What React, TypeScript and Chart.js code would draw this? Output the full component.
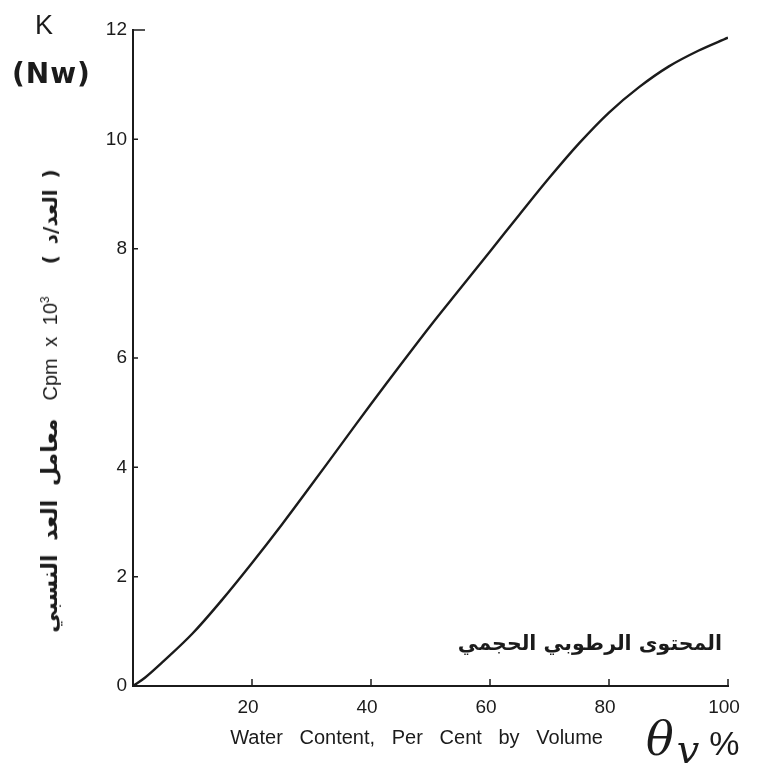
import React, { useEffect, useRef } from "react";
import { Chart, registerables } from "chart.js";

Chart.register(...registerables);

// Water content (% by volume)
const waterContent = [0, 2, 5, 10, 15, 20, 25, 30, 35, 40, 45, 50, 55, 60, 65, 70, 75, 80, 85, 90, 95, 100];
// Relative count rate K (Nw), Cpm x 10^3
const countRate = [0, 0.15, 0.44, 0.96, 1.58, 2.25, 2.95, 3.68, 4.42, 5.16, 5.88, 6.59, 7.27, 7.95, 8.63, 9.3, 9.93, 10.49, 10.95, 11.33, 11.62, 11.86];

const xTicks = [20, 40, 60, 80, 100];
const yTicks = [0, 2, 4, 6, 8, 10, 12];

const INK = "#1b1b1b";

const insideTicks = {
  id: "insideTicks",
  afterDraw(chart: any) {
    const { ctx, chartArea, scales } = chart;
    ctx.save();
    ctx.strokeStyle = INK;
    ctx.lineWidth = 1.5;
    ctx.beginPath();
    for (const v of xTicks) {
      const px = scales.x.getPixelForValue(v);
      ctx.moveTo(px, chartArea.bottom);
      ctx.lineTo(px, chartArea.bottom - 7);
    }
    for (const v of yTicks) {
      if (v === 0) continue;
      const py = scales.y.getPixelForValue(v);
      ctx.moveTo(chartArea.left, py);
      ctx.lineTo(chartArea.left + (v === 12 ? 12 : 5), py);
    }
    ctx.stroke();
    ctx.restore();
  },
};

export default function App() {
  const ref = useRef<HTMLCanvasElement | null>(null);

  useEffect(() => {
    if (!ref.current) return;
    const chart = new Chart(ref.current, {
      type: "line",
      data: {
        datasets: [
          {
            data: waterContent.map((x, i) => ({ x, y: countRate[i] })),
            borderColor: INK,
            borderWidth: 2.4,
            pointRadius: 0,
            tension: 0.35,
            fill: false,
          },
        ],
      },
      options: {
        animation: false,
        responsive: true,
        maintainAspectRatio: false,
        layout: { padding: { top: 30, right: 36, left: 0, bottom: 0 } },
        plugins: { legend: { display: false }, tooltip: { enabled: false } },
        scales: {
          x: {
            type: "linear",
            min: 0,
            max: 100,
            afterFit: (s: any) => {
              s.height = 79;
            },
            afterBuildTicks: (s: any) => {
              s.ticks = [0, ...xTicks].map((v) => ({ value: v }));
            },
            border: { display: true, color: INK, width: 2 },
            grid: { display: false, drawTicks: false },
            ticks: {
              padding: 10,
              labelOffset: -4,
              color: INK,
              font: { family: "Liberation Sans", size: 19 },
              callback: (v: any) => (v === 0 ? "" : String(v)),
            },
            title: {
              display: true,
              text: "Water   Content,   Per   Cent   by   Volume     ",
              color: INK,
              font: { family: "Liberation Sans", size: 20 },
              padding: { top: 0, bottom: 15 },
            },
          },
          y: {
            type: "linear",
            min: 0,
            max: 12,
            afterFit: (s: any) => {
              s.width = 133;
            },
            afterBuildTicks: (s: any) => {
              s.ticks = yTicks.map((v) => ({ value: v }));
            },
            border: { display: true, color: INK, width: 2 },
            grid: { display: false, drawTicks: false },
            ticks: {
              padding: 6,
              color: INK,
              font: { family: "Liberation Sans", size: 19 },
            },
          },
        },
      },
      plugins: [insideTicks],
    } as any);
    return () => chart.destroy();
  }, []);

  const abs = (s: React.CSSProperties): React.CSSProperties => ({
    position: "absolute",
    color: INK,
    whiteSpace: "nowrap",
    lineHeight: 1,
    ...s,
  });

  return (
    <div
      style={{
        position: "fixed",
        left: 0,
        top: 0,
        width: 764,
        height: 765,
        background: "#fff",
        overflow: "hidden",
      }}
    >
      <canvas ref={ref} style={{ position: "absolute", left: 0, top: 0 }} />
      <div style={abs({ left: 35, top: 12, fontFamily: "Liberation Sans", fontSize: 27 })}>K</div>
      <div
        style={abs({
          left: 12,
          top: 60,
          fontFamily: "DejaVu Sans",
          fontWeight: "bold",
          fontSize: 28,
          letterSpacing: 1,
        })}
      >
        (Nw)
      </div>
      <div
        style={abs({
          left: 50,
          top: 401,
          transform: "translate(-50%, -50%) rotate(-90deg)",
          fontFamily: "DejaVu Sans",
          fontSize: 21,
          direction: "ltr",
          display: "flex",
          alignItems: "baseline",
        })}
      >
        <span style={{ fontWeight: "bold", fontSize: 22, wordSpacing: 6 }}>معامل العد النسبي</span>
        <span style={{ fontFamily: "Liberation Sans", fontSize: 20, marginLeft: 18, wordSpacing: 6 }}>
          Cpm x 10<sup style={{ fontSize: 12 }}>3</sup>
        </span>
        <span style={{ fontWeight: "bold", fontSize: 20, marginLeft: 32, wordSpacing: 4 }}>( العد/د )</span>
      </div>
      <div
        style={abs({
          right: 42,
          top: 633,
          fontFamily: "DejaVu Sans",
          fontWeight: "bold",
          fontSize: 20.5,
          direction: "rtl",
        })}
      >
        المحتوى الرطوبي الحجمي
      </div>
      <div style={abs({ left: 646, top: 716, fontFamily: "DejaVu Serif" })}>
        <i style={{ fontSize: 46 }}>θ</i>
        <i style={{ fontSize: 40, position: "relative", top: 8, marginLeft: 3 }}>v</i>
        <span style={{ fontFamily: "Liberation Sans", fontSize: 34, marginLeft: 10 }}>%</span>
      </div>
    </div>
  );
}
